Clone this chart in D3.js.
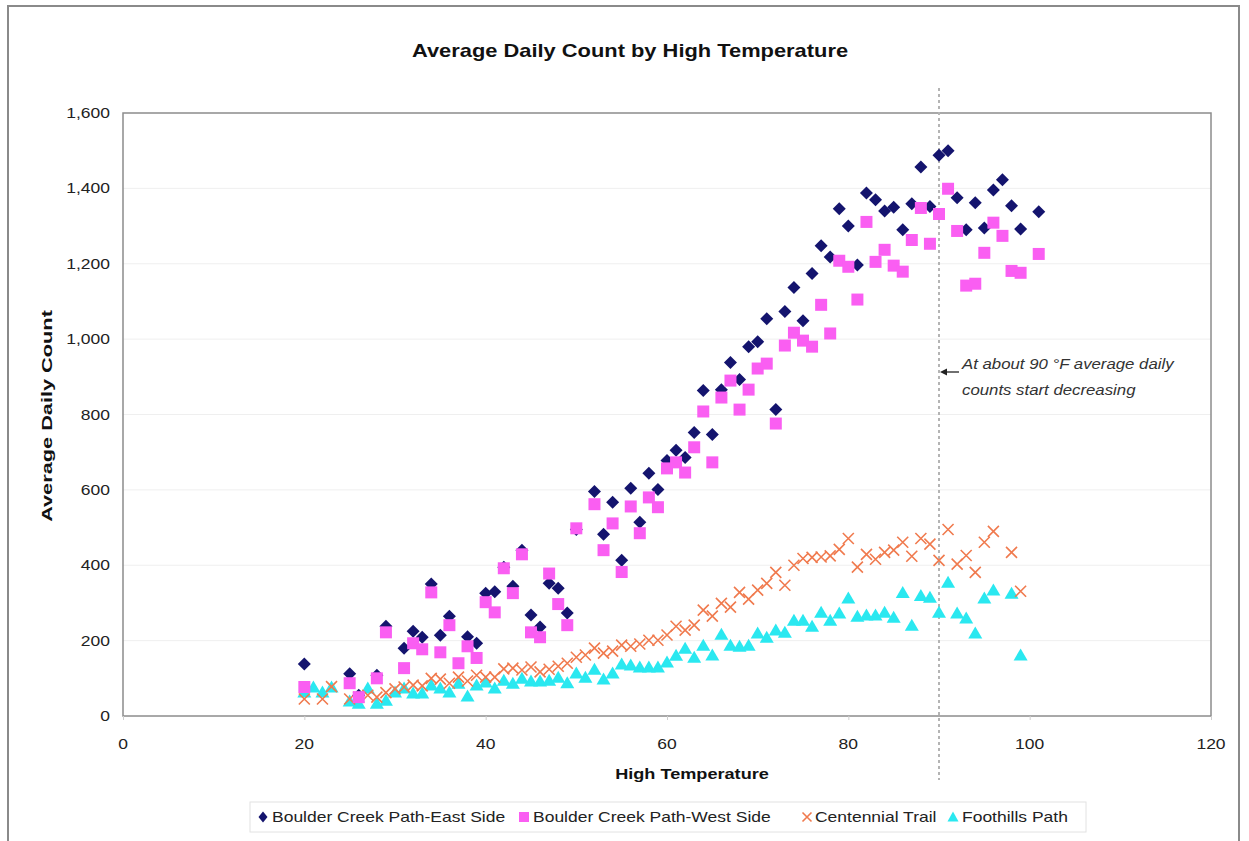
<!DOCTYPE html>
<html><head><meta charset="utf-8">
<script src="https://cdn.jsdelivr.net/npm/d3@7"></script>
<style>
body{margin:0;background:#fff;}
svg{display:block;}
text{font-family:"Liberation Sans",Arial,sans-serif;}
</style>
</head><body>
<svg id="c" width="1249" height="841"></svg>
<script>
const xTicks = [0,20,40,60,80,100,120];
const yTicks = [0,200,400,600,800,1000,1200,1400,1600];
const seriesNames = ["Boulder Creek Path-East Side","Boulder Creek Path-West Side","Centennial Trail","Foothills Path"];

const eastTemp = [20,25,26,28,29,31,32,33,34,35,36,38,39,40,41,42,43,44,45,46,47,48,49,50,52,53,54,55,56,57,58,59,60,61,62,63,64,65,66,67,68,69,70,71,72,73,74,75,76,77,78,79,80,81,82,83,84,85,86,87,88,89,90,91,92,93,94,95,96,97,98,99,101];
const eastVal = [138,112,55,108,238,180,225,209,350,214,265,210,193,326,330,395,344,440,268,236,352,339,273,495,596,482,567,413,604,514,644,601,678,705,686,752,864,747,866,938,893,980,993,1054,813,1073,1137,1049,1174,1248,1218,1346,1300,1197,1388,1370,1340,1350,1290,1359,1457,1352,1488,1500,1375,1290,1362,1295,1396,1423,1354,1292,1338];

const westTemp = [20,25,26,28,29,31,32,33,34,35,36,37,38,39,40,41,42,43,44,45,46,47,48,49,50,52,53,54,55,56,57,58,59,60,61,62,63,64,65,66,67,68,69,70,71,72,73,74,75,76,77,78,79,80,81,82,83,84,85,86,87,88,89,90,91,92,93,94,95,96,97,98,99,101];
const westVal = [77,87,50,100,222,127,193,177,328,169,241,140,185,154,302,275,392,326,429,222,209,378,297,241,498,562,440,511,382,556,485,580,554,657,673,646,713,808,673,845,890,813,866,922,935,776,983,1017,996,980,1091,1015,1208,1192,1105,1311,1205,1237,1195,1179,1263,1348,1253,1332,1399,1287,1142,1147,1229,1309,1274,1181,1176,1226];

const centTemp = [20,22,23,25,26,27,28,29,30,31,32,33,34,35,36,37,38,39,40,41,42,43,44,45,46,47,48,49,50,51,52,53,54,55,56,57,58,59,60,61,62,63,64,65,66,67,68,69,70,71,72,73,74,75,76,77,78,79,80,81,82,83,84,85,86,87,88,89,90,91,92,93,94,95,96,98,99];
const centVal = [45,45,78,45,50,55,50,62,72,77,82,80,100,98,87,103,93,108,103,103,125,127,122,130,117,124,132,140,156,162,180,167,172,188,185,191,201,201,215,238,228,241,281,265,299,289,328,310,334,352,381,347,400,418,421,422,425,442,471,395,429,416,434,440,461,424,471,456,413,495,403,426,381,461,490,434,331];

const footTemp = [20,21,22,23,25,26,27,28,29,30,31,32,33,34,35,36,37,38,39,40,41,42,43,44,45,46,47,48,49,50,51,52,53,54,55,56,57,58,59,60,61,62,63,64,65,66,67,68,69,70,71,72,73,74,75,76,77,78,79,80,81,82,83,84,85,86,87,88,89,90,91,92,93,94,95,96,98,99];
const footVal = [64,77,64,77,40,34,74,34,42,64,74,61,61,82,74,64,87,53,82,90,74,95,87,100,93,93,95,103,88,114,103,124,98,114,138,135,130,130,130,143,161,180,156,188,162,217,188,185,188,220,209,228,222,254,254,238,275,254,273,313,265,268,268,275,262,328,241,320,315,275,355,273,260,220,313,334,326,162];

const colors = ["#14146e","#fa5ef2","#f07a4e","#2ae8f0"];
const SX = 1.25; // horizontal stretch of the reference text

const svg = d3.select("#c");
svg.append("rect").attr("x",8).attr("y",6).attr("width",1231).attr("height",850)
  .attr("fill","none").attr("stroke","#8a8a8a").attr("stroke-width",2);

const L=123, R=1211, T=113, B=716;
const x = d3.scaleLinear().domain([0,120]).range([L,R]);
const y = d3.scaleLinear().domain([0,1600]).range([B,T]);

function label(px, py, str, opts){
  const o = Object.assign({size:14, anchor:"start", weight:"normal", sx:SX, sy:1, rot:0, fill:"#222", family:null, style:null}, opts||{});
  const t = svg.append("text")
    .attr("transform", `translate(${px},${py}) rotate(${o.rot}) scale(${o.sx},${o.sy})`)
    .attr("text-anchor", o.anchor).attr("font-size", o.size).attr("font-weight", o.weight)
    .attr("fill", o.fill).text(str);
  if (o.family) t.attr("font-family", o.family);
  if (o.style) t.attr("font-style", o.style);
  return t;
}

// gridlines
svg.append("g").selectAll("line").data(yTicks.slice(1,-1)).join("line")
  .attr("x1",L).attr("x2",R).attr("y1",d=>y(d)).attr("y2",d=>y(d))
  .attr("stroke","#efefef").attr("stroke-width",1);

svg.append("rect").attr("x",L).attr("y",T).attr("width",R-L).attr("height",B-T)
  .attr("fill","none").attr("stroke","#8c8c8c").attr("stroke-width",1.5);

// axes (tick positions from d3 axes, labels stretched)
const fmt = d3.format(",");
const yAxis = svg.append("g").attr("transform",`translate(${L},0)`)
  .call(d3.axisLeft(y).tickValues(yTicks).tickSize(0).tickFormat(""));
yAxis.select(".domain").remove();
yTicks.forEach(v => label(L-13, y(v)+5, fmt(v), {size:14, anchor:"end"}));

const xAxis = svg.append("g").attr("transform",`translate(0,${B})`)
  .call(d3.axisBottom(x).tickValues(xTicks).tickSize(4).tickFormat(""));
xAxis.select(".domain").remove();
xAxis.selectAll("line").attr("stroke","#cfcfcf");
xTicks.forEach(v => label(x(v), B+33, String(v), {size:14, anchor:"middle"}));

// titles
label(630, 57, "Average Daily Count by High Temperature", {size:17.5, anchor:"middle", weight:"bold", fill:"#111"});
label(692, 779, "High Temperature", {size:14.5, anchor:"middle", weight:"bold", fill:"#111"});
label(52, 416, "Average Daily Count", {size:14.5, anchor:"middle", weight:"bold", fill:"#111", rot:-90, sx:1.5});

// 90 F marker line
svg.append("line").attr("x1",x(90)).attr("x2",x(90)).attr("y1",88).attr("y2",780)
  .attr("stroke","#b4b4b4").attr("stroke-width",2).attr("stroke-dasharray","3,3");

const shapes = [
  () => "M0,-6.5L6.5,0L0,6.5L-6.5,0Z",
  () => "M-6,-6H6V6H-6Z",
  () => "M-5.5,-5.5L5.5,5.5M-5.5,5.5L5.5,-5.5",
  () => "M0,-6.5L7,5.5L-7,5.5Z"
];
function draw(temps, vals, i){
  const pts = temps.map((t,k)=>({t, v: vals[k]}));
  svg.append("g").selectAll("path").data(pts).join("path")
    .attr("transform",d=>`translate(${x(d.t)},${y(d.v)})`)
    .attr("d",shapes[i]())
    .attr("fill", i===2 ? "none" : colors[i])
    .attr("stroke", i===2 ? colors[i] : "none")
    .attr("stroke-width", 1.6);
}
draw(footTemp, footVal, 3);
draw(centTemp, centVal, 2);
draw(eastTemp, eastVal, 0);
draw(westTemp, westVal, 1);

// annotation
svg.append("line").attr("x1",959).attr("x2",944).attr("y1",372).attr("y2",372)
  .attr("stroke","#222").attr("stroke-width",1.3);
svg.append("path").attr("d","M940,372L947,368.5L947,375.5Z").attr("fill","#222");
const serif = "Liberation Serif, Times New Roman, serif";
label(962, 369, "At about 90 °F average daily", {size:15, family:serif, style:"italic", sx:1.12, fill:"#333"});
label(962, 395, "counts start decreasing", {size:15, family:serif, style:"italic", sx:1.12, fill:"#333"});

// legend
svg.append("rect").attr("x",250).attr("y",802).attr("width",836).attr("height",30)
  .attr("fill","#fff").attr("stroke","#e2e2e2");
const legX = [[263,272],[524,533],[807,815],[953,962]];
seriesNames.forEach((n,i)=>{
  svg.append("path").attr("transform",`translate(${legX[i][0]},817)`)
    .attr("d", i===0 ? "M0,-5.5L4.5,0L0,5.5L-4.5,0Z" : i===1 ? "M-5,-5H5V5H-5Z" : i===2 ? "M-4.5,-4.5L4.5,4.5M-4.5,4.5L4.5,-4.5" : "M0,-5.5L5.5,4.5L-5.5,4.5Z")
    .attr("fill", i===2 ? "none" : colors[i])
    .attr("stroke", i===2 ? colors[i] : "none").attr("stroke-width",1.6);
  label(legX[i][1], 822, n, {size:14});
});
</script>
</body></html>
